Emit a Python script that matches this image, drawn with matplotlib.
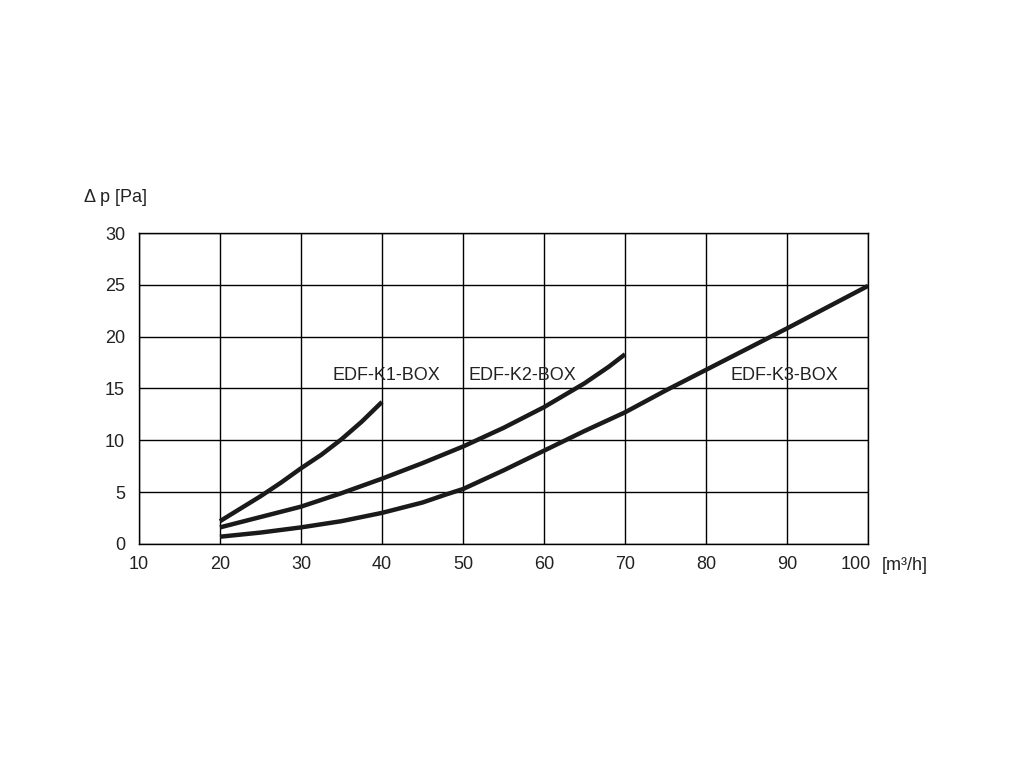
import matplotlib
matplotlib.use("Agg")
import matplotlib.pyplot as plt
from matplotlib.transforms import ScaledTranslation

plt.rcParams['font.family'] = ['Liberation Sans', 'DejaVu Sans']

# Druckverlust-Kennlinien
k1_x = [20, 22.5, 25, 27.5, 30, 32.5, 35, 37.5, 40]
k1_y = [2.2, 3.4, 4.6, 5.9, 7.3, 8.6, 10.1, 11.8, 13.7]

k2_x = [20, 25, 30, 35, 40, 45, 50, 55, 60, 65, 68, 70]
k2_y = [1.6, 2.6, 3.6, 4.9, 6.3, 7.8, 9.4, 11.2, 13.2, 15.5, 17.1, 18.3]

k3_x = [20, 25, 30, 35, 40, 45, 48, 50, 55, 60, 65, 70, 75, 80, 90, 100]
k3_y = [0.7, 1.1, 1.6, 2.2, 3.0, 4.0, 4.8, 5.3, 7.1, 9.0, 10.9, 12.7, 14.8, 16.8, 20.8, 24.9]

labels = ['EDF-K1-BOX', 'EDF-K2-BOX', 'EDF-K3-BOX']
label_x = [40.6, 57.3, 89.7]
label_y = [16.3, 16.3, 16.3]

x_ticks = [10, 20, 30, 40, 50, 60, 70, 80, 90, 100]
y_ticks = [0, 5, 10, 15, 20, 25, 30]

fig = plt.figure(figsize=(10.24, 7.68), dpi=100)
ax = fig.add_axes([0.1357, 0.2917, 0.7120, 0.4049])

for xs, ys in [(k1_x, k1_y), (k2_x, k2_y), (k3_x, k3_y)]:
    ax.plot(xs, ys, color='#1a1a1a', lw=3.2, solid_capstyle='butt',
            solid_joinstyle='round', zorder=3)

for t, x, y in zip(labels, label_x, label_y):
    ax.text(x, y, t, ha='center', va='center', fontsize=13, color='#222222',
            zorder=4)

ax.set_xlim(10, 100)
ax.set_ylim(0, 30)
ax.set_xticks(x_ticks)
ax.set_yticks(y_ticks)
ax.tick_params(length=0, labelsize=13, pad=9, colors='#222222')
ax.tick_params(axis='y', pad=10)
ax.grid(True, color='black', lw=1.0)
for s in ax.spines.values():
    s.set_color('black')
    s.set_linewidth(1.0)

# letzte Beschriftung etwas nach links, damit Platz für die Einheit bleibt
last = ax.get_xticklabels()[-1]
last.set_transform(last.get_transform() + ScaledTranslation(-12 / 100, 0, fig.dpi_scale_trans))

fig.text(116 / 1024, 1 - 198 / 768, 'Δ p [Pa]', ha='center', va='center',
         fontsize=13, color='#222222')
fig.text(905 / 1024, 1 - 565 / 768, '[m³/h]', ha='center', va='center',
         fontsize=13, color='#222222')

fig.savefig('out.png', dpi=100)
